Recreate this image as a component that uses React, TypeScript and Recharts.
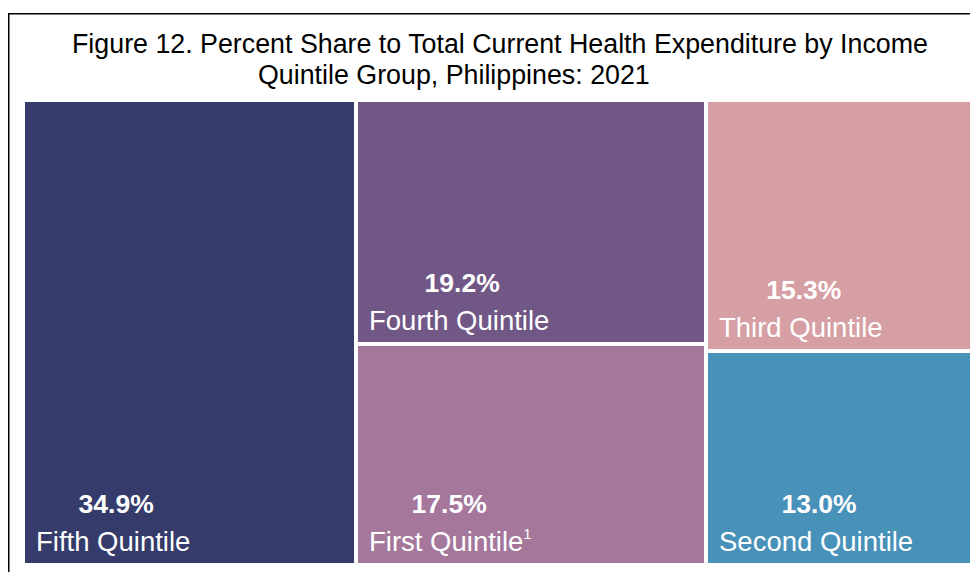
import React from "react";
import { Treemap } from "recharts";

// ─── Data ─────────────────────────────────────────────────────────────────────

const quintiles = ["Fifth Quintile", "Fourth Quintile", "First Quintile", "Third Quintile", "Second Quintile"];
const shares = [34.9, 19.2, 17.5, 15.3, 13.0];
const footnotes = ["", "", "1", "", ""];
const colors = ["#353B6A", "#715786", "#A4779B", "#D69FA4", "#4891B8"];

const titleLines = [
  "Figure 12. Percent Share to Total Current Health Expenditure by Income",
  "Quintile Group, Philippines: 2021",
];

const treeData = quintiles.map((name, i) => ({ name, size: shares[i] }));

// ─── Helpers ──────────────────────────────────────────────────────────────────

const FONT = "'Liberation Sans', Arial, sans-serif";
const NAME_SIZE = 27.5;
const PCT_SIZE = 26.5;

let ctx: CanvasRenderingContext2D | null = null;
const measure = (text: string, font: string) => {
  if (!ctx) ctx = document.createElement("canvas").getContext("2d");
  if (!ctx) return text.length * 14;
  ctx.font = font;
  return ctx.measureText(text).width;
};

// ─── Cell ─────────────────────────────────────────────────────────────────────

const CellContent = (props: any) => {
  const { x, y, width, height, depth, name } = props;
  if (depth !== 1) return null;
  const i = quintiles.indexOf(name);
  const bx = x + 2;
  const by = y + 2;
  const bw = width - 4;
  const bh = height - 4;
  const nameX = bx + 11;
  const nameY = by + bh - 12;
  const nameW = measure(name, `${NAME_SIZE}px 'Liberation Sans'`);

  return (
    <g>
      <rect x={bx} y={by} width={bw} height={bh} fill={colors[i]} stroke="none" />
      {/* percent sits roughly centred over the quintile name */}
      <text
        x={nameX + nameW / 2 + 3}
        y={nameY - 38}
        textAnchor="middle"
        fill="#fff"
        fontFamily={FONT}
        fontWeight="bold"
        fontSize={PCT_SIZE}
      >
        {shares[i].toFixed(1)}%
      </text>
      <text x={nameX} y={nameY} fill="#fff" fontFamily={FONT} fontSize={NAME_SIZE}>
        {name}
        {footnotes[i] && (
          <tspan fontSize={15} dy={-12}>
            {footnotes[i]}
          </tspan>
        )}
      </text>
    </g>
  );
};

// ─── Component ────────────────────────────────────────────────────────────────

export default function App() {
  return (
    <div style={{ position: "relative", width: 970, height: 564, overflow: "hidden", background: "#fff" }}>
      <svg width={970} height={564} style={{ position: "absolute", left: 0, top: 0 }}>
        {/* frame, only top and left edges are visible */}
        <path d="M0.75 564 V5.75 H970" fill="none" stroke="#000" strokeWidth={1.5} />
        <text x={492} y={45} textAnchor="middle" fontFamily={FONT} fontSize={26.8} fill="#000">
          {titleLines[0]}
        </text>
        <text x={250} y={76} fontFamily={FONT} fontSize={26.8} fill="#000">
          {titleLines[1]}
        </text>
      </svg>

      <div style={{ position: "absolute", left: 15, top: 92 }}>
        <Treemap
          width={954}
          height={465}
          data={treeData}
          dataKey="size"
          nameKey="name"
          aspectRatio={1}
          isAnimationActive={false}
          content={(p: any) => <CellContent {...p} />}
        />
      </div>
    </div>
  );
}
